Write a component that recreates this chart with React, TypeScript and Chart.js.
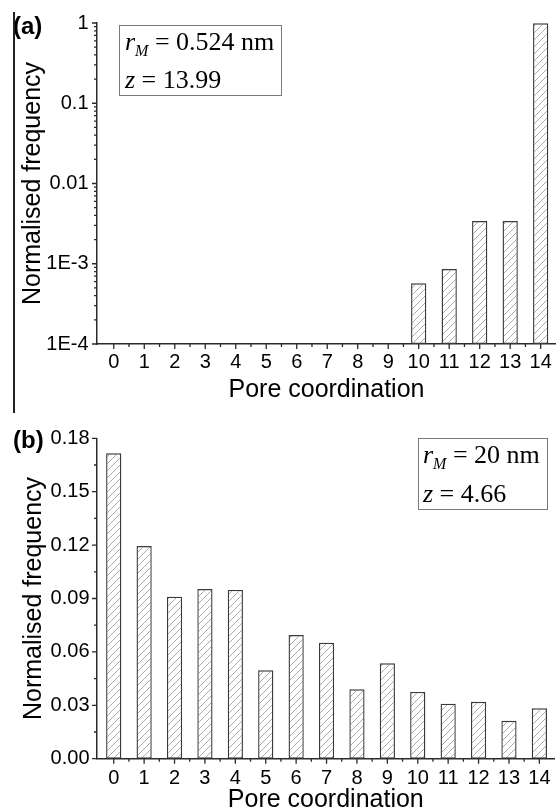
import React, { useEffect, useRef } from "react";
import { Chart, registerables } from "chart.js";

Chart.register(...registerables);

// ---------- data ----------
const coordination = [0, 1, 2, 3, 4, 5, 6, 7, 8, 9, 10, 11, 12, 13, 14];
const freqA = [0, 0, 0, 0, 0, 0, 0, 0, 0, 0, 0.00057, 0.00086, 0.0034, 0.0034, 0.99];
const freqB = [0.1716, 0.1195, 0.091, 0.0953, 0.0948, 0.0497, 0.0695, 0.0652, 0.039, 0.0536, 0.0375, 0.0309, 0.032, 0.0213, 0.0283];
const xMinorTicks = [0.5, 1.5, 2.5, 3.5, 4.5, 5.5, 6.5, 7.5, 8.5, 9.5, 10.5, 11.5, 12.5, 13.5];
const yTicksA = [0.0001, 0.001, 0.01, 0.1, 1];
const yTickLabelsA = ["1E-4", "1E-3", "0.01", "0.1", "1"];
const yMinorA = [
  0.0002, 0.0003, 0.0004, 0.0005, 0.0006, 0.0007, 0.0008, 0.0009,
  0.002, 0.003, 0.004, 0.005, 0.006, 0.007, 0.008, 0.009,
  0.02, 0.03, 0.04, 0.05, 0.06, 0.07, 0.08, 0.09,
  0.2, 0.3, 0.4, 0.5, 0.6, 0.7, 0.8, 0.9,
];
const yTicksB = [0, 0.03, 0.06, 0.09, 0.12, 0.15, 0.18];
const yTickLabelsB = ["0.00", "0.03", "0.06", "0.09", "0.12", "0.15", "0.18"];
const yMinorB = [0.015, 0.045, 0.075, 0.105, 0.135, 0.165];
const xTitle = "Pore coordination";
const yTitle = "Normalised frequency";
const annotA = { letter: "(a)", r: "0.524 nm", z: "13.99" };
const annotB = { letter: "(b)", r: "20 nm", z: "4.66" };

// ---------- styles ----------
const SANS = '"Liberation Sans", Arial, sans-serif';
const SERIF = '"Liberation Serif", "Times New Roman", serif';
const AXIS = "#2a2a2a";

function makeHatch(): CanvasPattern | string {
  const s = 7;
  const p = document.createElement("canvas");
  p.width = s;
  p.height = s;
  const c = p.getContext("2d");
  if (!c) return "#fff";
  c.fillStyle = "#ffffff";
  c.fillRect(0, 0, s, s);
  c.strokeStyle = "#a0a0a0";
  c.lineWidth = 0.9;
  c.beginPath();
  c.moveTo(0, s);
  c.lineTo(s, 0);
  c.moveTo(-1, 1);
  c.lineTo(1, -1);
  c.moveTo(s - 1, s + 1);
  c.lineTo(s + 1, s - 1);
  c.stroke();
  const pat = c.createPattern(p, "repeat");
  return pat || "#fff";
}

const decoPlugin = {
  id: "panelDeco",
  afterDraw(chart: any, _args: any, o: any) {
    const { ctx, chartArea: a } = chart;
    const xs = chart.scales.x;
    const ys = chart.scales.y;
    ctx.save();
    ctx.strokeStyle = AXIS;
    ctx.lineWidth = 1.3;
    ctx.beginPath();
    o.xMajor.forEach((v: number) => {
      const p = xs.getPixelForValue(v);
      ctx.moveTo(p, a.bottom);
      ctx.lineTo(p, a.bottom + 5);
    });
    o.xMinor.forEach((v: number) => {
      const p = xs.getPixelForValue(v);
      ctx.moveTo(p, a.bottom);
      ctx.lineTo(p, a.bottom + 3);
    });
    o.yMajor.forEach((v: number) => {
      const p = ys.getPixelForValue(v);
      ctx.moveTo(a.left, p);
      ctx.lineTo(a.left - 5, p);
    });
    o.yMinor.forEach((v: number) => {
      const p = ys.getPixelForValue(v);
      ctx.moveTo(a.left, p);
      ctx.lineTo(a.left - 3, p);
    });
    ctx.stroke();

    // panel letter
    ctx.fillStyle = "#000";
    ctx.font = `bold 24px ${SANS}`;
    ctx.textBaseline = "middle";
    ctx.textAlign = "left";
    ctx.fillText(o.annot.letter, o.letterX, o.letterY);

    // info box
    const b = o.box;
    ctx.strokeStyle = "#7a7a7a";
    ctx.lineWidth = 1;
    ctx.strokeRect(b.x + 0.5, b.y + 0.5, b.w, b.h);
    ctx.textBaseline = "alphabetic";
    let x = b.tx;
    ctx.font = `italic 26px ${SERIF}`;
    ctx.fillText("r", x, b.b1);
    x += ctx.measureText("r").width;
    ctx.font = `italic 16px ${SERIF}`;
    ctx.fillText("M", x, b.b1 + 6);
    x += ctx.measureText("M").width;
    ctx.font = `26px ${SERIF}`;
    ctx.fillText(" = " + o.annot.r, x, b.b1);
    x = b.tx;
    ctx.font = `italic 26px ${SERIF}`;
    ctx.fillText("z", x, b.b2);
    x += ctx.measureText("z").width;
    ctx.font = `26px ${SERIF}`;
    ctx.fillText(" = " + o.annot.z, x, b.b2);
    ctx.restore();
  },
};

function buildConfig(kind: "a" | "b"): any {
  const isA = kind === "a";
  const values = isA ? freqA : freqB;
  const points = coordination.map((c, i) => ({
    x: c,
    y: isA ? (values[i] > 0 ? values[i] : null) : values[i],
  }));
  const yTicks = isA ? yTicksA : yTicksB;
  const yLabels = isA ? yTickLabelsA : yTickLabelsB;
  return {
    type: "bar",
    data: {
      datasets: [
        {
          data: points,
          backgroundColor: makeHatch(),
          borderColor: "#3a3a3a",
          borderWidth: 1.4,
          borderSkipped: false,
          barPercentage: 0.5,
          categoryPercentage: 1,
        },
      ],
    },
    options: {
      animation: false,
      responsive: false,
      devicePixelRatio: 1,
      layout: { padding: { top: isA ? 23 : 28.3, left: 0, right: 0, bottom: 0 } },
      plugins: {
        legend: { display: false },
        tooltip: { enabled: false },
        panelDeco: {
          xMajor: coordination,
          xMinor: xMinorTicks,
          yMajor: yTicks,
          yMinor: isA ? yMinorA : yMinorB,
          annot: isA ? annotA : annotB,
          letterX: 13,
          letterY: isA ? 27 : 31,
          box: isA
            ? { x: 119, y: 25, w: 162, h: 70, tx: 125, b1: 50, b2: 88 }
            : { x: 418, y: 28, w: 129, h: 71, tx: 423, b1: 53, b2: 92 },
        },
      },
      scales: {
        x: {
          type: "linear",
          offset: false,
          min: -0.55,
          max: 14.5,
          afterFit: (s: any) => {
            s.height = isA ? 66 : 71.3;
          },
          afterBuildTicks: (s: any) => {
            s.ticks = coordination.map((v) => ({ value: v }));
          },
          grid: { display: false, drawTicks: false, offset: false },
          border: { display: true, color: AXIS, width: 1.5 },
          ticks: {
            color: "#000",
            font: { family: SANS, size: 20 },
            padding: isA ? 6.2 : 7.5,
            maxRotation: 0,
            autoSkip: false,
            callback: (v: any) => String(v),
          },
          title: {
            display: true,
            text: xTitle,
            color: "#000",
            font: { family: SANS, size: 25 },
            padding: { top: 0, bottom: isA ? 5 : 15 },
          },
        },
        y: {
          type: isA ? "logarithmic" : "linear",
          min: isA ? 0.0001 : 0,
          max: isA ? 1 : 0.18,
          afterFit: (s: any) => {
            s.width = 97;
          },
          afterBuildTicks: (s: any) => {
            s.ticks = yTicks.map((v) => ({ value: v }));
          },
          grid: { display: false, drawTicks: false },
          border: { display: true, color: AXIS, width: 1.5 },
          ticks: {
            color: "#000",
            font: { family: SANS, size: 20 },
            padding: isA ? 8.5 : 7.5,
            autoSkip: false,
            callback: (_v: any, i: number) => yLabels[i],
          },
          title: {
            display: true,
            text: yTitle,
            color: "#000",
            font: { family: SANS, size: 25 },
            padding: { top: isA ? 18 : 19, bottom: 0 },
          },
        },
      },
    },
    plugins: [decoPlugin],
  };
}

export default function App() {
  const refA = useRef<HTMLCanvasElement | null>(null);
  const refB = useRef<HTMLCanvasElement | null>(null);

  useEffect(() => {
    const charts: Chart[] = [];
    if (refA.current) charts.push(new Chart(refA.current, buildConfig("a")));
    if (refB.current) charts.push(new Chart(refB.current, buildConfig("b")));
    return () => charts.forEach((c) => c.destroy());
  }, []);

  return (
    <div
      style={{
        position: "absolute",
        left: 0,
        top: 0,
        width: 558,
        height: 812,
        overflow: "hidden",
        background: "#fff",
      }}
    >
      <canvas
        ref={refA}
        width={558}
        height={410}
        style={{ position: "absolute", left: 0, top: 0, width: 558, height: 410 }}
      />
      <canvas
        ref={refB}
        width={558}
        height={420}
        style={{ position: "absolute", left: 0, top: 410, width: 558, height: 420 }}
      />
      <div
        style={{
          position: "absolute",
          left: 13,
          top: 12,
          width: 2,
          height: 401,
          background: "#222",
        }}
      />
    </div>
  );
}
